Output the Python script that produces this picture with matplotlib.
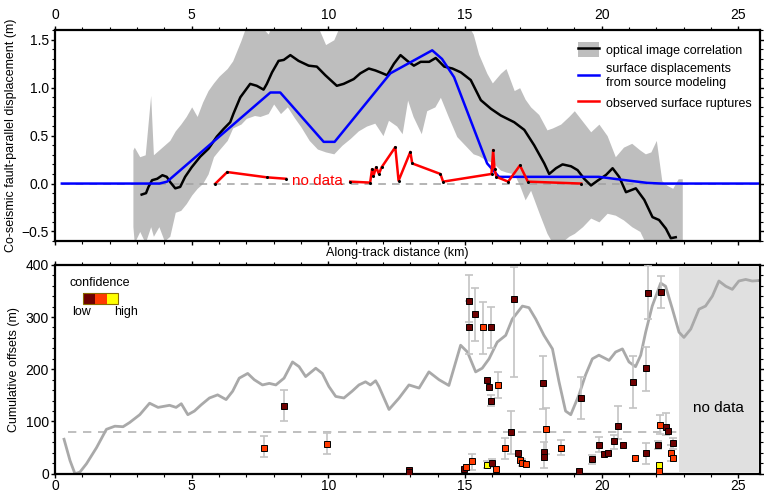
import numpy as np
import matplotlib
matplotlib.use("Agg")
import matplotlib.pyplot as plt
from matplotlib.patches import Patch, Rectangle
from matplotlib.lines import Line2D

plt.rcParams['font.family'] = ['Liberation Sans', 'DejaVu Sans']

# ---- top panel: fault-parallel displacement ----
band_x = [2.85, 2.9, 3.1, 3.3, 3.5, 3.6, 3.8, 4.0, 4.2, 4.4, 4.6, 4.8, 5.0, 5.2, 5.4, 5.6, 5.8,
          6.0, 6.3, 6.5, 6.8, 7.0, 7.3, 7.5, 7.8, 8.0, 8.25, 8.5, 8.75, 9.0, 9.3, 9.6, 9.9,
          10.2, 10.5, 10.8, 11.1, 11.4, 11.7, 12.0, 12.2, 12.5, 12.7, 12.9, 13.1, 13.4, 13.6,
          13.9, 14.1, 14.4, 14.7, 15.0, 15.3, 15.5, 15.8, 16.0, 16.3, 16.5, 16.8, 17.0, 17.2,
          17.4, 17.7, 18.0, 18.2, 18.5, 18.8, 19.0, 19.3, 19.6, 19.9, 20.2, 20.5, 20.8, 21.1,
          21.4, 21.6, 21.8, 22.0, 22.2, 22.4, 22.6, 22.8, 22.95]
band_hi = [0.35, 0.38, 0.28, 0.3, 0.92, 0.3, 0.35, 0.4, 0.45, 0.55, 0.62, 0.7, 0.8, 0.7, 0.85,
           0.97, 1.05, 1.12, 1.2, 1.28, 1.49, 1.65, 1.7, 1.65, 1.56, 1.7, 1.7, 1.7, 1.7, 1.7,
           1.7, 1.65, 1.45, 1.5, 1.7, 1.7, 1.7, 1.7, 1.7, 1.7, 1.7, 1.7, 1.7, 1.7, 1.7, 1.7,
           1.7, 1.7, 1.7, 1.7, 1.7, 1.7, 1.56, 1.35, 1.15, 1.05, 1.15, 1.2, 0.97, 1.0, 0.88,
           0.8, 0.72, 0.56, 0.58, 0.62, 0.7, 0.76, 0.65, 0.54, 0.62, 0.5, 0.28, 0.38, 0.42,
           0.35, 0.31, 0.33, 0.45, 0.03, -0.02, -0.05, 0.05, 0.05]
band_lo = [-0.45, -0.62, -0.5, -0.62, -0.45, -0.55, -0.45, -0.6, -0.55, -0.3, -0.28, -0.21,
           -0.12, -0.05, 0.0, 0.1, 0.28, 0.35, 0.45, 0.58, 0.62, 0.68, 0.71, 0.7, 0.73, 0.83,
           0.73, 0.8, 0.69, 0.59, 0.45, 0.36, 0.33, 0.31, 0.4, 0.47, 0.55, 0.6, 0.63, 0.5,
           0.66, 0.6, 0.52, 0.87, 0.7, 0.52, 0.76, 0.8, 0.9, 0.69, 0.49, 0.4, 0.31, 0.29,
           0.24, 0.22, 0.14, 0.12, 0.1, -0.02, -0.17, -0.07, -0.3, -0.52, -0.62, -0.62, -0.55,
           -0.52, -0.45, -0.36, -0.4, -0.31, -0.33, -0.38, -0.45, -0.5, -0.62, -0.62, -0.62,
           -0.62, -0.62, -0.62, -0.62, -0.62]

optical_x = [3.17, 3.33, 3.42, 3.55, 3.74, 3.93, 4.09, 4.21, 4.4, 4.58, 4.76, 5.0, 5.31, 5.62,
             5.92, 6.17, 6.41, 6.53, 6.78, 7.14, 7.38, 7.63, 7.75, 7.94, 8.18, 8.37, 8.61,
             8.91, 9.28, 9.58, 9.89, 10.31, 10.56, 10.93, 11.17, 11.48, 11.72, 11.9, 12.15,
             12.4, 12.64, 12.89, 13.13, 13.38, 13.69, 13.93, 14.24, 14.54, 14.85, 15.21, 15.58,
             15.95, 16.31, 16.8, 17.17, 17.53, 17.9, 18.08, 18.33, 18.57, 18.88, 19.12, 19.36,
             19.61, 19.85, 20.16, 20.4, 20.64, 20.89, 21.25, 21.56, 21.86, 22.1, 22.35, 22.53,
             22.71]
optical_y = [-0.115, -0.1, -0.035, 0.035, 0.05, 0.087, 0.07, 0.017, -0.05, -0.035, 0.07, 0.17,
             0.28, 0.365, 0.49, 0.57, 0.64, 0.73, 0.9, 1.04, 1.02, 0.98, 1.04, 1.16, 1.28, 1.29,
             1.34, 1.28, 1.23, 1.22, 1.13, 1.02, 1.04, 1.09, 1.15, 1.2, 1.18, 1.16, 1.13, 1.25,
             1.34, 1.28, 1.23, 1.27, 1.27, 1.31, 1.22, 1.2, 1.16, 1.08, 0.87, 0.78, 0.71, 0.64,
             0.56, 0.4, 0.21, 0.1, 0.16, 0.2, 0.18, 0.14, 0.05, -0.02, 0.03, 0.09, 0.16, 0.07,
             -0.09, -0.05, -0.17, -0.35, -0.38, -0.47, -0.57, -0.56]

model_x = [0.25, 3.82, 4.1, 7.88, 8.24, 9.83, 10.23, 12.27, 13.8, 14.16, 14.6, 15.81, 16.24,
           19.9, 20.45, 21.67, 22.2, 25.8]
model_y = [0.0, 0.0, 0.02, 0.95, 0.95, 0.435, 0.435, 1.15, 1.39, 1.3, 1.11, 0.21, 0.07,
           0.07, 0.05, 0.007, 0.0, 0.0]

rupt_x = [5.87, 6.3, 7.75, 8.45, np.nan, 10.8, 11.53, 11.6, 11.65, 11.75, 11.85, 11.95, 12.45,
          12.57, 13.0, 13.07, 14.1, 14.2, 15.97, 16.03, 16.08, 16.15, 16.58, 17.01, 17.3, 19.25]
rupt_y = [0.0, 0.12, 0.065, 0.05, np.nan, 0.02, 0.01, 0.15, 0.08, 0.17, 0.1, 0.17, 0.38,
          0.03, 0.33, 0.21, 0.1, 0.02, 0.1, 0.35, 0.15, 0.07, 0.02, 0.19, 0.02, 0.0]

# ---- bottom panel: cumulative offsets ----
cum_x = [0.33, 0.55, 0.73, 0.91, 1.15, 1.52, 1.88, 2.19, 2.49, 2.73, 3.1, 3.46, 3.77, 4.19,
         4.43, 4.62, 4.86, 5.1, 5.35, 5.65, 5.95, 6.26, 6.5, 6.74, 7.05, 7.29, 7.59, 7.84,
         8.08, 8.38, 8.69, 8.93, 9.17, 9.54, 9.78, 10.02, 10.27, 10.57, 10.87, 11.12, 11.36,
         11.54, 11.73, 11.85, 12.22, 12.59, 12.95, 13.32, 13.68, 14.05, 14.41, 14.84, 15.09,
         15.39, 15.63, 15.88, 16.18, 16.49, 16.73, 17.1, 17.34, 17.59, 17.89, 18.2, 18.44,
         18.68, 18.87, 19.17, 19.41, 19.66, 19.9, 20.27, 20.51, 20.76, 21.0, 21.24, 21.43,
         21.61, 21.85, 22.16, 22.34, 22.59, 22.83, 23.01, 23.26, 23.56, 23.8, 24.05, 24.29,
         24.54, 24.78, 25.02, 25.27, 25.51, 25.76]
cum_y = [66, 25, 0, 3, 19, 50, 85, 91, 90, 98, 113, 135, 127, 131, 127, 134, 113, 120, 132,
         145, 151, 142, 158, 183, 192, 180, 170, 173, 170, 183, 214, 205, 186, 202, 192, 167,
         148, 145, 158, 170, 176, 170, 178, 167, 123, 145, 170, 164, 195, 180, 169, 246, 233,
         195, 202, 220, 252, 265, 296, 321, 318, 296, 265, 239, 176, 120, 113, 151, 189, 220,
         227, 217, 233, 239, 214, 205, 227, 271, 321, 365, 359, 315, 271, 261, 277, 315, 321,
         340, 369, 359, 353, 369, 372, 369, 370]

# offsets: x, value, lower, upper, confidence (0 low, 1 mid, 2 high)
off_x = [7.65, 8.36, 9.94, 12.95, 12.95, 14.98, 15.02, 15.16, 15.16, 15.26, 15.38, 15.67,
         15.81, 15.96, 15.79, 15.89, 15.96, 16.0, 16.12, 16.22, 16.48, 16.7, 16.79, 16.95,
         17.0, 17.07, 17.25, 17.85, 17.89, 17.89, 17.98, 18.52, 19.17, 19.23, 19.66, 19.9,
         20.08, 20.24, 20.45, 20.61, 20.79, 21.15, 21.22, 21.64, 21.61, 21.7, 22.06, 22.08,
         22.08, 22.12, 22.16, 22.37, 22.44, 22.54, 22.6, 22.6]
off_y = [50, 130, 57, 8, 3, 9, 13, 330, 280, 25, 306, 280, 16, 280, 179, 167, 140, 20, 9,
         170, 49, 79, 335, 39, 26, 21, 18, 174, 41, 32, 86, 50, 4.5, 145, 28, 55, 37, 40, 63,
         92, 55, 175, 31, 40, 202, 346, 55, 16, 4.5, 94, 348, 90, 81, 40, 30, 58]
off_lo = [32, 100, 38, 8, 3, 9, 13, 290, 229, 7, 255, 230, 10, 240, 179, 167, 130, 12, 9,
          145, 28, 38, 186, 39, 26, 15, 18, 123, 41, 10, 38, 35, 4.5, 104, 19, 42, 37, 40, 48,
          66, 55, 126, 31, 19, 158, 296, 47, 16, 4.5, 76, 318, 74, 81, 25, 30, 48]
off_hi = [72, 160, 78, 8, 3, 9, 13, 380, 330, 38, 355, 329, 25, 320, 179, 167, 150, 28, 9,
          195, 69, 120, 396, 39, 26, 28, 18, 225, 41, 60, 126, 65, 4.5, 186, 36, 70, 37, 40, 75,
          129, 55, 226, 31, 59, 243, 400, 63, 16, 4.5, 113, 378, 116, 81, 55, 30, 68]
off_conf = [1, 0, 1, 0, 0, 0, 1, 0, 0, 1, 0, 1, 2, 0, 0, 0, 0, 0, 1, 1, 1, 0, 0, 0, 1, 1, 1,
            0, 0, 0, 1, 1, 0, 0, 0, 0, 0, 0, 0, 0, 0, 0, 1, 0, 0, 0, 0, 2, 1, 1, 0, 0, 0, 1,
            1, 0]
conf_colors = ['#6e0000', '#ff3a00', '#ffff00']

W, H = 764, 495


def px(x, y):
    return x / W, 1 - y / H


fig = plt.figure(figsize=(W / 100, H / 100), dpi=100)
ax1 = fig.add_axes([0.072, 0.513, 0.923, 0.426])
ax2 = fig.add_axes([0.072, 0.043, 0.923, 0.422])

ax1.fill_between(band_x, band_lo, band_hi, color='#bebebe', lw=0)
ax1.plot([0.25, 25.8], [0, 0], color='#a0a0a0', lw=1.1, dashes=(5, 4))
ax1.plot(optical_x, optical_y, color='black', lw=1.8)
ax1.plot(model_x, model_y, color='#0000ff', lw=1.8)
ax1.plot(rupt_x, rupt_y, color='#ff0000', lw=1.8, marker='o', ms=1.2, mfc='k', mec='k')
ax1.text(9.6, 0.03, 'no data', color='#ff0000', fontsize=11, ha='center', va='center')

ax1.set_xlim(0, 25.8)
ax1.set_ylim(-0.6, 1.6)
ax1.xaxis.set_ticks_position('both')
ax1.tick_params(axis='x', labeltop=True, labelbottom=False)
ax1.yaxis.set_ticks_position('both')
ax1.set_xticks(np.arange(0, 26, 5))
ax1.set_xticks(np.arange(0, 26, 1), minor=True)
ax1.set_yticks([-0.5, 0, 0.5, 1.0, 1.5])
ax1.set_yticklabels(['\u22120.5', '0.0', '0.5', '1.0', '1.5'])
ax1.set_yticks(np.arange(-0.6, 1.61, 0.1), minor=True)
ax1.set_ylabel('Co-seismic fault-parallel displacement (m)', fontsize=9, labelpad=3)

leg_handles = [(Patch(facecolor='#bebebe', edgecolor='none'), Line2D([], [], color='k', lw=1.8)),
               Line2D([], [], color='#0000ff', lw=1.8),
               Line2D([], [], color='#ff0000', lw=1.8)]
leg_labels = ['optical image correlation', 'surface displacements\nfrom source modeling',
              'observed surface ruptures']
ax1.legend(leg_handles, leg_labels, loc='upper left', bbox_to_anchor=(0.741, 0.945),
           frameon=False, fontsize=9, handlelength=1.75, handleheight=1.5, handletextpad=0.55,
           labelspacing=0.5, borderpad=0, borderaxespad=0)

ax2.add_patch(Rectangle((22.83, 3), 25.72 - 22.83, 392, facecolor='#e0e0e0', edgecolor='none'))
ax2.plot([0.49, 22.83], [80, 80], color='#b4b4b4', lw=1.2, dashes=(5, 4))
ax2.plot(cum_x, cum_y, color='#a9a9a9', lw=2)
ax2.text(24.26, 126, 'no data', fontsize=11, ha='center', va='center')

for xi, yi, lo, hi, c in zip(off_x, off_y, off_lo, off_hi, off_conf):
    if hi > lo:
        ax2.errorbar(xi, yi, yerr=[[yi - lo], [hi - yi]], fmt='none', ecolor='#c4c4c4',
                     elinewidth=1.2, capsize=2.8, capthick=1.2, zorder=3)
    ax2.plot(xi, yi, 's', ms=4.6, mfc=conf_colors[c], mec='k', mew=0.7, zorder=4)

ax2.set_xlim(0, 25.8)
ax2.set_ylim(0, 400)
ax2.xaxis.set_ticks_position('both')
ax2.yaxis.set_ticks_position('both')
ax2.set_xticks(np.arange(0, 26, 5))
ax2.set_xticks(np.arange(0, 26, 1), minor=True)
ax2.set_yticks(np.arange(0, 401, 100))
ax2.set_yticks(np.arange(0, 401, 20), minor=True)
ax2.set_ylabel('Cumulative offsets (m)', fontsize=9, labelpad=4)

for ax in (ax1, ax2):
    for s in ax.spines.values():
        s.set_linewidth(1.6)
    ax.tick_params(which='major', direction='out', length=3, width=1, labelsize=10, pad=1.5)
    ax.tick_params(which='minor', direction='out', length=2, width=0.8)
ax1.tick_params(axis='x', which='major', pad=3)
ax2.tick_params(axis='x', which='major', pad=0.8)

# confidence key
for i, col in enumerate(conf_colors):
    x0, y0 = px(83.3 + i * 11.7, 304)
    fig.patches.append(Rectangle((x0, y0), 11.7 / W, 10.7 / H, facecolor=col, edgecolor='none',
                                 transform=fig.transFigure, figure=fig))
x0, y0 = px(83.3, 304)
fig.patches.append(Rectangle((x0, y0), 35 / W, 10.7 / H, facecolor='none', edgecolor='#8a6d00',
                             lw=0.8, transform=fig.transFigure, figure=fig))
fig.text(*px(100, 283), 'confidence', fontsize=9, ha='center', va='center')
fig.text(*px(81.7, 312), 'low', fontsize=9, ha='center', va='center')
fig.text(*px(126, 312), 'high', fontsize=9, ha='center', va='center')

fig.text(*px(397, 253), 'Along-track distance (km)', fontsize=9, ha='center', va='center')

fig.savefig('out.png', dpi=100)
